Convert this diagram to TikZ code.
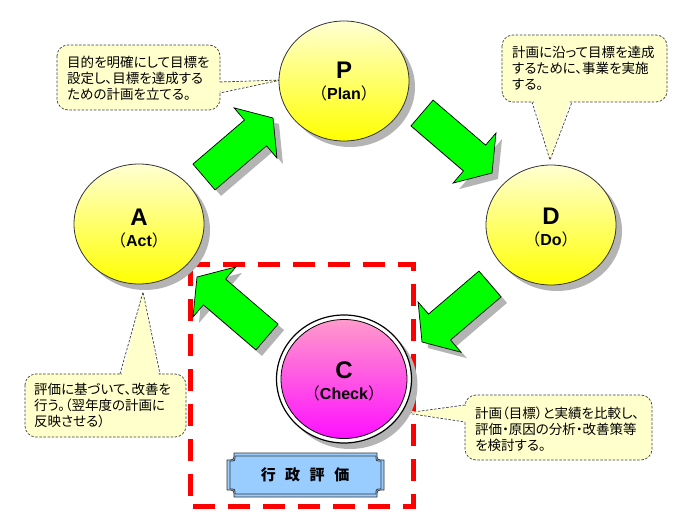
\documentclass[tikz,border=0pt]{standalone}
\usepackage{fontspec}
\setmainfont{Liberation Sans}
\newfontfamily\jp[RawFeature=+palt]{Noto Sans CJK JP}
\newfontfamily\jpf{Noto Sans CJK JP}
\usetikzlibrary{calc,shapes.geometric,shadows}
\definecolor{cream}{HTML}{FFFFCC}
\definecolor{lblue}{HTML}{99CCFF}
\definecolor{shad}{HTML}{B4B4B4}
\definecolor{ltyellow}{HTML}{FFFFD2}
\definecolor{pinktop}{HTML}{FF9ACB}
\definecolor{magbot}{HTML}{FF10FF}
\definecolor{arrgreen}{HTML}{00FF00}
\newcommand\blockarrow[3][]{%
  \path #2 coordinate (baT) #3 coordinate (baH);
  \coordinate (baB) at ($(baH)!23pt!(baT)$);
  \path[#1] ($(baT)!17pt!90:(baH)$) -- ($(baB)!17pt!90:(baH)$) -- ($(baB)!33pt!90:(baH)$) -- (baH)
    -- ($(baB)!33pt!-90:(baH)$) -- ($(baB)!17pt!-90:(baH)$) -- ($(baT)!17pt!-90:(baH)$) -- cycle;}
\newcommand\greenarrow[4]{%
  \blockarrow[fill=shad]{(#1+6,#2+6)}{(#3+6,#4+6)}%
  \blockarrow[fill=arrgreen,draw=black,line width=0.7pt,line join=miter]{(#1,#2)}{(#3,#4)}}
\newcommand\notchbox[6][]{%
  \path[#1] (#2+#6,#3) -- (#4-#6,#3) .. controls (#4-#6,#3+#6) .. (#4,#3+#6) -- (#4,#5-#6)
    .. controls (#4-#6,#5-#6) .. (#4-#6,#5) -- (#2+#6,#5) .. controls (#2+#6,#5-#6) .. (#2,#5-#6)
    -- (#2,#3+#6) .. controls (#2+#6,#3+#6) .. (#2+#6,#3) -- cycle;}
\tikzset{
  callbox/.style={fill=cream, draw=black!75, dash pattern=on 2.5pt off 1.6pt, line width=0.7pt, rounded corners=11pt},
  callline/.style={draw=black!75, dash pattern=on 2.5pt off 1.6pt, line width=0.7pt},
  ctext/.style={font=\jp\fontsize{13.5}{16}\selectfont, align=left, inner sep=0pt, anchor=west},
  circ/.style={ellipse, draw=black!80, line width=0.8pt, minimum width=130pt, minimum height=120pt,
    top color=ltyellow, bottom color=yellow, inner sep=0pt,
    drop shadow={shadow xshift=6pt, shadow yshift=-6pt, fill=shad, opacity=1}},
  bigl/.style={font=\bfseries\fontsize{24}{24}\selectfont, inner sep=0pt},
  smalll/.style={font=\bfseries\fontsize{16}{16}\selectfont, inner sep=0pt},
}
\newcommand\op{{\mdseries\jpf （}}
\newcommand\cp{{\mdseries\jpf ）}}
\begin{document}
\begin{tikzpicture}[x=1pt,y=-1pt]
\useasboundingbox (0,0) rectangle (690,529);
% red dashed frame
\draw[red, line width=5pt, dash pattern=on 22pt off 13pt] (190,264) rectangle (413,506);
% callout 1 (top left)
\draw[callbox] (57,45) rectangle (220,110);
\coordinate (tip1) at (281,80);
\fill[cream] (212,82) -- (tip1) -- (212,93) -- cycle;
\draw[callline] (220,82) -- (tip1) -- (220,93);
\node[ctext] (txt1) at (67,78) {目的を明確にして目標を\\設定し、目標を達成する\\ための計画を立てる。};
% callout 2 (top right)
\draw[callbox] (502,35) rectangle (667,102);
\coordinate (tip2) at (550,160);
\fill[cream] (532,94) -- (tip2) -- (572,94) -- cycle;
\draw[callline] (532,102) -- (tip2) -- (572,102);
\node[ctext] (txt2) at (512,68) {計画に沿って目標を達成\\するために、事業を実施\\する。};
% callout 3 (bottom left)
\draw[callbox] (25,374) rectangle (186,437);
\coordinate (tip3) at (143,292);
\fill[cream] (120,382) -- (tip3) -- (160,382) -- cycle;
\draw[callline] (120,374) -- (tip3) -- (160,374);
\node[ctext] (txt3) at (34,405) {評価に基づいて、改善を\\行う。（翌年度の計画に\\反映させる）};
% callout 4 (bottom right)
\draw[callbox] (465,395) rectangle (652,460);
\coordinate (tip4) at (406,413);
\fill[cream] (473,405) -- (tip4) -- (473,422) -- cycle;
\draw[callline] (465,405) -- (tip4) -- (465,422);
\node[ctext] (txt4) at (475,429) {計画（目標）と実績を比較し、\\評価・原因の分析・改善策等\\を検討する。};
% circles
\node[circ] (P) at (344,81) {};
\node[circ] (A) at (139,224) {};
\node[circ] (D) at (551,225) {};
\node[ellipse, draw=black, line width=1.2pt, fill=white, minimum width=135pt, minimum height=128pt,
  drop shadow={shadow xshift=6pt, shadow yshift=-6pt, fill=shad, opacity=1}] (C) at (344,379) {};
\node[ellipse, draw=black, line width=0.8pt, top color=pinktop, bottom color=magbot,
  minimum width=126pt, minimum height=119pt] (Cin) at (344,379) {};
\node[bigl] (Pl) at (344,70) {P};
\node[smalll] (Ps) at (344,93) {\op Plan\cp};
\node[bigl] (Al) at (139,217) {A};
\node[smalll] (As) at (139,240) {\op Act\cp};
\node[bigl] (Dl) at (551,216) {D};
\node[smalll] (Ds) at (551,239) {\op Do\cp};
\node[bigl] (Cl) at (344,370) {C};
\node[smalll] (Cs) at (344,393) {\op Check\cp};
% arrows
\greenarrow{204}{177}{273}{118}
\greenarrow{422}{113}{492}{173}
\greenarrow{490}{284}{422}{342}
\greenarrow{267}{337}{197}{277}
% administrative evaluation box
\notchbox[fill=lblue, draw=black!80, line width=0.8pt]{227}{453}{384}{497}{7}
\notchbox[draw=black!80, line width=0.8pt]{230}{456}{381}{494}{5}
\node[font=\jpf\bfseries\fontsize{15}{15}\selectfont, inner sep=0pt] (GH) at (305,475)
  {行\hspace{9.5pt}政\hspace{9.5pt}評\hspace{9.5pt}価};
\end{tikzpicture}
\end{document}
